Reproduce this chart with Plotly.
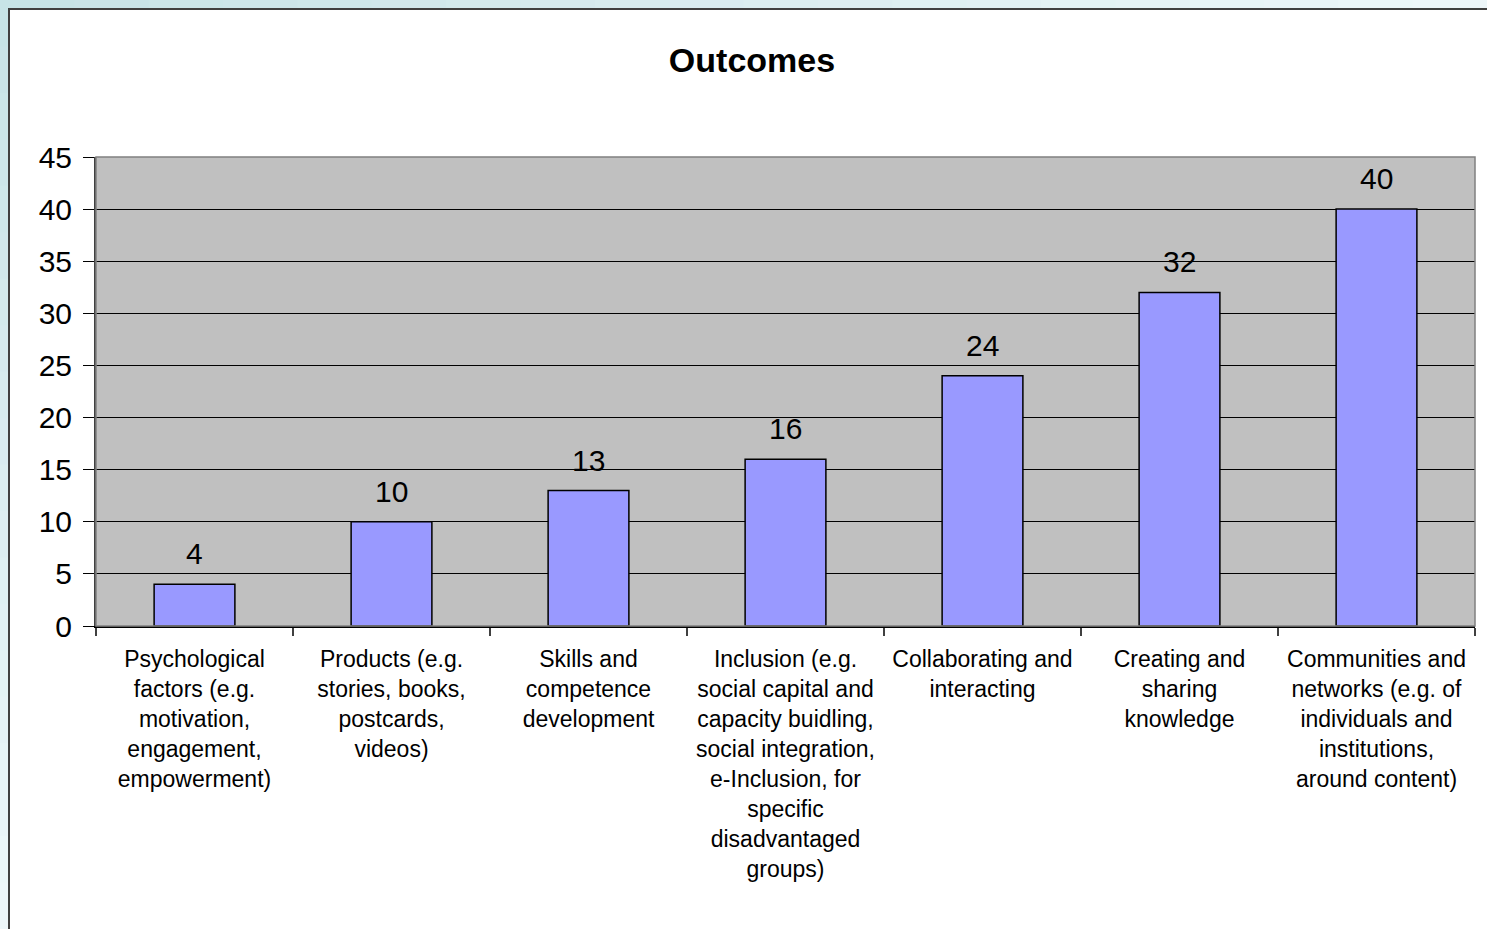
import plotly.graph_objects as go

categories = [
    "Psychological<br>factors (e.g.<br>motivation,<br>engagement,<br>empowerment)",
    "Products (e.g.<br>stories, books,<br>postcards,<br>videos)",
    "Skills and<br>competence<br>development",
    "Inclusion (e.g.<br>social capital and<br>capacity buidling,<br>social integration,<br>e-Inclusion, for<br>specific<br>disadvantaged<br>groups)",
    "Collaborating and<br>interacting",
    "Creating and<br>sharing<br>knowledge",
    "Communities and<br>networks (e.g. of<br>individuals and<br>institutions,<br>around content)",
]
values = [4, 10, 13, 16, 24, 32, 40]
y_ticks = [0, 5, 10, 15, 20, 25, 30, 35, 40, 45]

W, H = 1487, 929
ML, MR, MT, MB = 96, 12, 157, 303
PW, PH = W - ML - MR, H - MT - MB
FONT = "Liberation Sans, Arial, sans-serif"


def px(x):  # pixel x -> paper fraction (paper = plot area)
    return (x - ML) / PW


def py(y):  # pixel y (from top) -> paper fraction
    return (H - MB - y) / PH


fig = go.Figure()
fig.add_trace(go.Bar(
    x=categories, y=values,
    width=0.41,
    marker=dict(color="#9999ff", line=dict(color="black", width=1.5)),
    hoverinfo="x+y",
))

annotations = [
    dict(x=c, y=v, xref="x", yref="y", text=str(v), showarrow=False,
         yanchor="bottom", yshift=12, font=dict(family=FONT, size=30, color="black"))
    for c, v in zip(categories, values)
]


def hexmix(c1, c2, t):
    a = [int(c1[i:i + 2], 16) for i in (1, 3, 5)]
    b = [int(c2[i:i + 2], 16) for i in (1, 3, 5)]
    return "#" + "".join(f"{round(a[k] + (b[k] - a[k]) * t):02x}" for k in range(3))


shapes = []
N = 20
c_top, c_bot = "#c6e3e7", "#eef7f9"
for i in range(N):
    # left strip gradient (top to bottom)
    shapes.append(dict(type="rect", xref="paper", yref="paper", layer="above",
                       x0=px(-2), x1=px(8), y0=py(H * (i + 1) / N + 1), y1=py(H * i / N),
                       fillcolor=hexmix(c_top, c_bot, (i + 0.5) / N), line=dict(width=0)))
    # top strip gradient (left to right)
    shapes.append(dict(type="rect", xref="paper", yref="paper", layer="above",
                       x0=px(W * i / N), x1=px(W * (i + 1) / N + 1), y0=py(8), y1=py(-2),
                       fillcolor=hexmix(c_top, c_bot, (i + 0.5) / N), line=dict(width=0)))
# chart frame border
shapes.append(dict(type="rect", xref="paper", yref="paper", layer="above",
                   x0=px(9), x1=px(W + 20), y0=py(H + 20), y1=py(9),
                   fillcolor="rgba(0,0,0,0)", line=dict(color="#404040", width=2)))
# plot-area border (gray top/right)
shapes.append(dict(type="rect", xref="x domain", yref="y domain",
                   x0=0, x1=1, y0=0, y1=1, line=dict(color="#808080", width=1.5),
                   fillcolor="rgba(0,0,0,0)", layer="above"))

fig.update_layout(
    width=W, height=H,
    margin=dict(l=ML, r=MR, t=MT, b=MB),
    paper_bgcolor="white",
    plot_bgcolor="#c0c0c0",
    showlegend=False,
    bargap=0.59,
    title=dict(text="<b>Outcomes</b>", x=752 / W, xanchor="center",
               y=1 - 60 / H, yanchor="middle", yref="container",
               font=dict(family=FONT, size=34, color="black")),
    font=dict(family=FONT, color="black"),
    annotations=annotations,
    shapes=shapes,
)
fig.update_xaxes(
    type="category",
    tickson="boundaries",
    ticks="outside", ticklen=8, tickcolor="#404040", tickwidth=1.5,
    showline=True, linecolor="black", linewidth=1.5,
    showgrid=False,
    tickangle=0,
    tickfont=dict(family=FONT, size=23, color="black"),
    ticklabelstandoff=12,
)
fig.update_yaxes(
    range=[0, 45],
    tickvals=y_ticks, ticktext=[str(t) for t in y_ticks],
    ticks="outside", ticklen=11, tickcolor="black", tickwidth=1,
    showline=True, linecolor="#404040", linewidth=2,
    showgrid=True, gridcolor="black", gridwidth=1,
    zeroline=False,
    tickfont=dict(family=FONT, size=30, color="black"),
    ticklabelstandoff=5,
)

fig.write_html("out.html")
